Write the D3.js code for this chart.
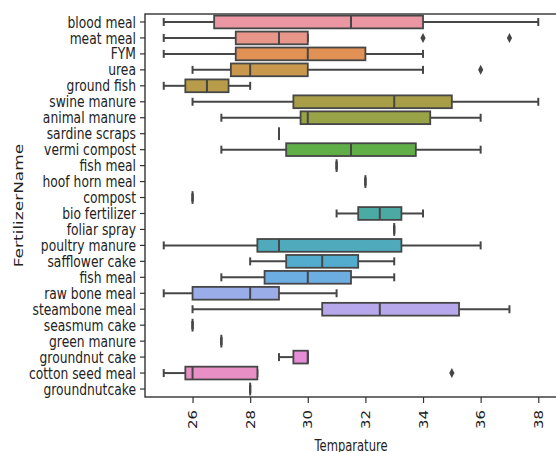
<!DOCTYPE html>
<html>
<head>
<meta charset="utf-8">
<script src="https://cdn.jsdelivr.net/npm/d3@7"></script>
<style>
	body { margin:0; background:#fff; }
	text { font-family:"DejaVu Sans", sans-serif; fill:#222; }
</style>
</head>
<body>
<div id="chart"></div>
<script>

// category names, top to bottom
const names=["blood meal","meat meal","FYM","urea","ground fish","swine manure","animal manure",
	"sardine scraps","vermi compost","fish meal","hoof horn meal","compost","bio fertilizer",
	"foliar spray","poultry manure","safflower cake","fish meal","raw bone meal","steambone meal",
	"seasmum cake","green manure","groundnut cake","cotton seed meal","groundnutcake"];

// box statistics (Temparature)
const whiskLo=[25,25,25,26,25,26,27,29,27,31,32,26,31,33,25,28,27,25,26,26,27,29,25,28];
const q1     =[26.75,27.5,27.5,27.33,25.75,29.5,29.75,29,29.25,31,32,26,31.75,33,28.25,29.25,28.5,26,30.5,26,27,29.5,25.75,28];
const median =[31.5,29,30,28,26.5,33,30,29,31.5,31,32,26,32.5,33,29,30.5,30,28,32.5,26,27,30,26,28];
const q3     =[34,30,32,30,27.25,35,34.25,29,33.75,31,32,26,33.25,33,33.25,31.75,31.5,29,35.25,26,27,30,28.25,28];
const whiskHi=[38,30,34,34,28,38,36,29,36,31,32,26,34,33,36,33,33,31,37,26,27,30,28.25,28];
const outliers=[[1,34],[1,37],[3,36],[22,35]];

const xTicks=[26,28,30,32,34,36,38];

// seaborn-like husl palette
const husl=(function(){
	const m=[[3.2406,-1.5372,-0.4986],[-0.9689,1.8758,0.0415],[0.0557,-0.2040,1.0570]];
	const refU=0.19784, refV=0.46834, labE=0.008856, labK=903.3;
	function maxChroma(L,H) {
		let hrad=H*Math.PI/180, sinH=Math.sin(hrad), cosH=Math.cos(hrad);
		let sub1=Math.pow(L+16,3)/1560896, sub2=sub1>labE ? sub1 : L/labK;
		let result=Infinity;
		m.forEach(function(r) {
			let tp=(0.99915*r[0]+1.05122*r[1]+1.14460*r[2])*sub2;
			let rb=0.86330*r[2]-0.17266*r[1], lb=0.12949*r[2]-0.38848*r[0];
			let bt=(rb*sinH+lb*cosH)*sub2;
			[0,1].forEach(function(t) {
				let C=L*(tp-1.05122*t)/(bt+0.17266*sinH*t);
				if(C>0 && C<result) result=C;
			});
		});
		return result;
	}
	function fromLinear(c) { return c<=0.0031308 ? 12.92*c : 1.055*Math.pow(c,1/2.4)-0.055; }
	return function(H,S,L) {
		let C=maxChroma(L,H)/100*S, hrad=H*Math.PI/180;
		let U=Math.cos(hrad)*C, V=Math.sin(hrad)*C;
		let Y=L>8 ? Math.pow((L+16)/116,3) : L/labK;
		let vU=U/(13*L)+refU, vV=V/(13*L)+refV;
		let X=-(9*Y*vU)/((vU-4)*vV-vU*vV);
		let Z=(9*Y-15*vV*Y-vV*X)/(3*vV);
		let rgb=m.map(r=>Math.min(1,Math.max(0,fromLinear(r[0]*X+r[1]*Y+r[2]*Z))));
		return d3.rgb(rgb[0]*255,rgb[1]*255,rgb[2]*255);
	};
})();

let colors=names.map(function(d,i) {
	let h=((i/names.length+0.01)%1)*359;
	let c=d3.hsl(husl(h,0.9*99,0.7*99));
	c.s*=0.75;
	return c;
});
let lum=d3.min(colors,c=>c.l)*0.6;
let gray=d3.rgb(lum*255,lum*255,lum*255).formatHex();

let width=556, height=452,
	mLeft=145, mRight=557, mTop=14, mBottom=397;

let svg=d3.select("#chart").append("svg")
	.attr("width",width)
	.attr("height",height);

let x=d3.scaleLinear().domain([24.35,38.65]).range([mLeft,mRight]);
let y=d3.scaleBand().domain(d3.range(names.length)).range([mTop,mBottom]);
let bw=y.bandwidth()*0.8, cap=y.bandwidth()*0.5;

// axes
let gx=svg.append("g")
	.attr("transform","translate(0,"+mBottom+")")
	.call(d3.axisBottom(x).tickValues(xTicks).tickSize(6).tickSizeOuter(0));
gx.selectAll("text")
	.attr("y",null).attr("dy","0.35em")
	.attr("text-anchor","end")
	.attr("font-size",15)
	.attr("transform","translate(0,13) scale(0.77,1) rotate(-90)");

let gy=svg.append("g")
	.attr("transform","translate("+mLeft+",0)")
	.call(d3.axisLeft(y).tickFormat(i=>names[i]).tickSize(5).tickSizeOuter(0));
gy.selectAll("text")
	.attr("x",null).attr("dy","0.35em")
	.attr("font-size",16)
	.attr("transform","translate(-9,0) scale(0.77,1)");

svg.selectAll(".domain").remove();
svg.selectAll(".tick line").attr("stroke","#333").attr("stroke-width",1.2);

svg.append("rect")
	.attr("x",mLeft).attr("y",mTop)
	.attr("width",mRight-mLeft).attr("height",mBottom-mTop)
	.attr("fill","none").attr("stroke","#333").attr("stroke-width",1.4);

// boxes
let rows=svg.append("g").selectAll("g")
	.data(names.map((d,i)=>i))
	.join("g")
	.attr("transform",i=>"translate(0,"+(y(i)+y.bandwidth()/2)+")");

rows.append("line")
	.attr("x1",i=>x(whiskLo[i])).attr("x2",i=>x(q1[i]))
	.attr("stroke",gray).attr("stroke-width",2);
rows.append("line")
	.attr("x1",i=>x(q3[i])).attr("x2",i=>x(whiskHi[i]))
	.attr("stroke",gray).attr("stroke-width",2);
rows.append("line")
	.attr("x1",i=>x(whiskLo[i])).attr("x2",i=>x(whiskLo[i]))
	.attr("y1",-cap/2).attr("y2",cap/2)
	.attr("stroke",gray).attr("stroke-width",2);
rows.append("line")
	.attr("x1",i=>x(whiskHi[i])).attr("x2",i=>x(whiskHi[i]))
	.attr("y1",-cap/2).attr("y2",cap/2)
	.attr("stroke",gray).attr("stroke-width",2);
rows.append("rect")
	.attr("x",i=>x(q1[i])).attr("y",-bw/2)
	.attr("width",i=>x(q3[i])-x(q1[i])).attr("height",bw)
	.attr("fill",i=>colors[i]).attr("stroke",gray).attr("stroke-width",1.8);
rows.append("line")
	.attr("x1",i=>x(median[i])).attr("x2",i=>x(median[i]))
	.attr("y1",-bw/2).attr("y2",bw/2)
	.attr("stroke",gray).attr("stroke-width",2);

// fliers
svg.append("g").selectAll("path")
	.data(outliers)
	.join("path")
	.attr("transform",d=>"translate("+x(d[1])+","+(y(d[0])+y.bandwidth()/2)+")")
	.attr("d","M0,-5L2.6,0L0,5L-2.6,0Z")
	.attr("fill",gray);

// axis titles
svg.append("text")
	.attr("transform","translate("+((mLeft+mRight)/2)+",451) scale(0.77,1)")
	.attr("text-anchor","middle")
	.attr("font-size",15)
	.text("Temparature");

svg.append("text")
	.attr("transform","translate(23,"+((mTop+mBottom)/2)+") scale(0.77,1) rotate(-90)")
	.attr("text-anchor","middle")
	.attr("font-size",17)
	.text("FertilizerName");

</script>
</body>
</html>
